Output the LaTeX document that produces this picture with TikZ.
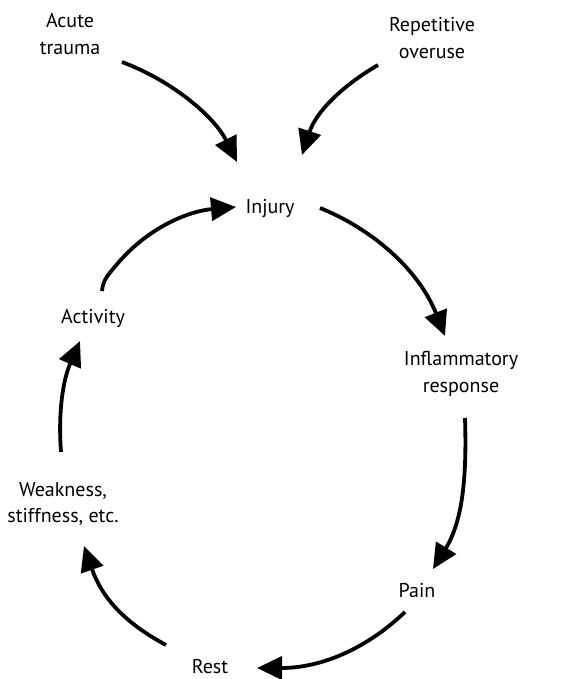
\documentclass[tikz,border=0pt]{standalone}
\usepackage{fontspec}
\setmainfont{PT Sans}
\usetikzlibrary{arrows.meta}
\begin{document}
\begin{tikzpicture}[x=1pt,y=-1pt,
  lbl/.style={inner sep=0pt,align=center,font=\fontsize{20pt}{26.5pt}\selectfont},
  arr/.style={line width=3.8pt,-{Triangle[length=25pt,width=23pt]}}]
\useasboundingbox (0,0) rectangle (562,679);
\node[lbl] (acute) at (70,34) {Acute\\trauma};
\node[lbl] (rep) at (432,38) {Repetitive\\overuse};
\node[lbl] (inj) at (270,209) {Injury};
\node[lbl] (act) at (93,318) {Activity};
\node[lbl] (inf) at (461,374) {Inflammatory\\response};
\node[lbl] (weak) at (63,504) {Weakness,\\stiffness, etc.};
\node[lbl] (pain) at (417,590) {Pain};
\node[lbl] (rest) at (210,667) {Rest};
% endpoints
\coordinate (a1) at (122,62);  \coordinate (a2) at (237,162);
\coordinate (r1) at (378,65);  \coordinate (r2) at (302,155);
\coordinate (c1) at (102,291); \coordinate (c2) at (236,207);
\coordinate (i1) at (320,208); \coordinate (i2) at (445,336);
\coordinate (f1) at (465,418); \coordinate (f2) at (433,569);
\coordinate (p1) at (405,612); \coordinate (p2) at (257,668);
\coordinate (s1) at (166,645); \coordinate (s2) at (84,546);
\coordinate (w1) at (61,452);  \coordinate (w2) at (80,341);
\draw[arr] (a1) .. controls (175,82) and (215,118) .. (a2);
\draw[arr] (r1) .. controls (342,86) and (316,112) .. (r2);
\draw[arr] (c1) .. controls (103,279) and (109,274) .. (118,263)
           .. controls (150,226) and (190,211) .. (c2);
\draw[arr] (i1) .. controls (370,228) and (418,268) .. (i2);
\draw[arr] (f1) .. controls (467,480) and (462,522) .. (f2);
\draw[arr] (p1) .. controls (365,650) and (320,668) .. (p2);
\draw[arr] (s1) .. controls (125,623) and (102,598) .. (s2);
\draw[arr] (w1) .. controls (58,412) and (63,380) .. (w2);
\end{tikzpicture}
\end{document}
